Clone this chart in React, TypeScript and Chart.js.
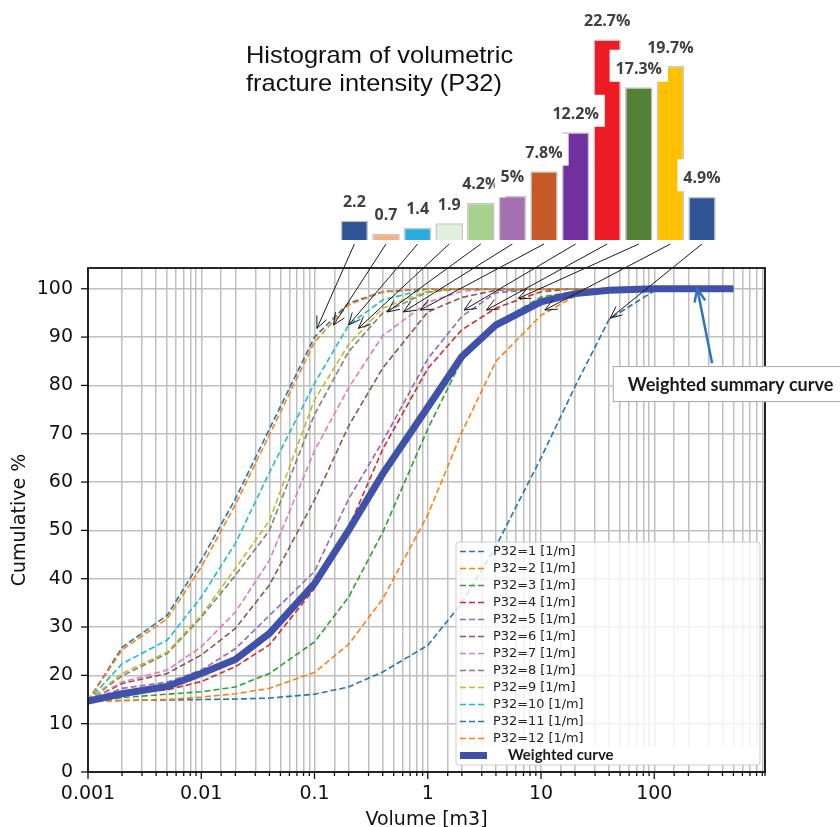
import React, { useEffect, useRef } from 'react';
import { Chart, registerables } from 'chart.js';

Chart.register(...registerables);

// Volume classes [m3] at which every cumulative curve is sampled
const volumes = [0.001, 0.002, 0.005, 0.01, 0.02, 0.04, 0.1, 0.2, 0.4, 1, 2, 4, 10, 20, 40, 100, 200, 500];

// Cumulative % of block volume, one list per fracture intensity class
const cumP32_1 = [14.7, 14.8, 14.9, 15.0, 15.1, 15.3, 16.1, 17.6, 20.7, 26.2, 35.0, 46.7, 65.0, 79.8, 93.7, 99.6, 100, 100];
const cumP32_2 = [14.7, 14.8, 15.0, 15.5, 16.2, 17.3, 20.6, 26.4, 35.8, 53.2, 70.3, 85.0, 94.5, 98.5, 99.7, 100, 100, 100];
const cumP32_3 = [14.7, 15.4, 16.1, 16.6, 17.6, 20.4, 26.9, 36.2, 49.6, 71.0, 85.3, 92.8, 98.3, 99.4, 99.8, 100, 100, 100];
const cumP32_4 = [14.7, 16.1, 17.0, 18.7, 21.8, 26.3, 38.0, 50.5, 66.8, 83.5, 91.5, 96.0, 99.4, 100, 100, 100, 100, 100];
const cumP32_5 = [14.7, 17.3, 18.6, 21.1, 25.5, 32.4, 41.5, 56.5, 68.4, 85.5, 94.3, 99.2, 100, 100, 100, 100, 100, 100];
const cumP32_6 = [14.7, 18.3, 20.4, 24.2, 29.7, 38.7, 56.3, 71.6, 83.6, 95.2, 98.2, 99.7, 100, 100, 100, 100, 100, 100];
const cumP32_7 = [14.7, 18.6, 21.1, 25.9, 33.1, 43.8, 66.5, 79.5, 90.3, 97.2, 99.5, 100, 100, 100, 100, 100, 100, 100];
const cumP32_8 = [14.7, 19.9, 24.5, 32.0, 40.7, 50.0, 74.0, 87.0, 95.0, 99.3, 100, 100, 100, 100, 100, 100, 100, 100];
const cumP32_9 = [14.7, 20.4, 24.8, 32.4, 42.1, 52.0, 77.0, 88.5, 96.0, 99.5, 100, 100, 100, 100, 100, 100, 100, 100];
const cumP32_10 = [14.7, 22.4, 27.3, 36.2, 47.3, 62.0, 80.4, 92.5, 97.7, 100, 100, 100, 100, 100, 100, 100, 100, 100];
const cumP32_11 = [14.7, 25.8, 32.4, 43.8, 56.5, 71.0, 90.0, 97.0, 99.4, 100, 100, 100, 100, 100, 100, 100, 100, 100];
const cumP32_12 = [14.7, 25.3, 31.7, 42.4, 55.3, 69.8, 89.0, 96.7, 99.3, 100, 100, 100, 100, 100, 100, 100, 100, 100];
const cumWeighted = [14.7, 16.2, 17.7, 20.4, 23.3, 28.7, 39.0, 50.0, 61.7, 75.5, 86.0, 92.5, 97.3, 99.0, 99.7, 100, 100, 100];

const curveSeries = [cumP32_1, cumP32_2, cumP32_3, cumP32_4, cumP32_5, cumP32_6, cumP32_7, cumP32_8, cumP32_9, cumP32_10, cumP32_11, cumP32_12];
const curveLabels = ['P32=1 [1/m]', 'P32=2 [1/m]', 'P32=3 [1/m]', 'P32=4 [1/m]', 'P32=5 [1/m]', 'P32=6 [1/m]', 'P32=7 [1/m]', 'P32=8 [1/m]', 'P32=9 [1/m]', 'P32=10 [1/m]', 'P32=11 [1/m]', 'P32=12 [1/m]'];
const curveColors = ['#1f77b4', '#ff7f0e', '#2ca02c', '#d62728', '#9467bd', '#8c564b', '#e377c2', '#7f7f7f', '#bcbd22', '#17becf', '#1f77b4', '#ff7f0e'];
const weightedLabel = 'Weighted curve';
const weightedColor = '#3f51a8';

// Histogram of P32 occurrence (left to right: P32 = 12 ... 1)
const histClasses = ['12', '11', '10', '9', '8', '7', '6', '5', '4', '3', '2', '1'];
const histShares = [2.2, 0.7, 1.4, 1.9, 4.2, 5, 7.8, 12.2, 22.7, 17.3, 19.7, 4.9];
const histLabels = ['2.2', '0.7', '1.4', '1.9', '4.2%', '5%', '7.8%', '12.2%', '22.7%', '17.3%', '19.7%', '4.9%'];
const histColors = ['#2f5597', '#f4b183', '#29abe2', '#e2efda', '#a9d18e', '#a470b0', '#c55a28', '#7030a0', '#ed1c24', '#548235', '#ffc000', '#2f5597'];

// Where each histogram bar points on its curve: volume [m3] and cumulative %
const arrowVolumes = [0.105, 0.147, 0.2, 0.244, 0.44, 0.61, 0.86, 2.09, 3.3, 6.3, 10.8, 40.7];
const arrowPercents = [91.8, 92.5, 92.5, 91.8, 95.2, 95.2, 95.6, 95.6, 95.6, 98.0, 95.6, 93.9];

const calloutText = 'Weighted summary curve';
const calloutFrom = { x: 324, y: 84.6 };
const calloutTo = { x: 240, y: 100 };
const calloutAnchor = { x: 43, y: 84 };

const xTitle = 'Volume [m3]';
const yTitle = 'Cumulative %';
const yTicks = [0, 10, 20, 30, 40, 50, 60, 70, 80, 90, 100];

const W = 840;
const H = 827;

const isDecade = (v: number) => Math.abs(Math.log10(v) - Math.round(Math.log10(v))) < 1e-6;

function arrowHead(ctx: CanvasRenderingContext2D, fx: number, fy: number, tx: number, ty: number, len: number, spread: number) {
  const a = Math.atan2(ty - fy, tx - fx);
  ctx.beginPath();
  ctx.moveTo(tx - len * Math.cos(a - spread), ty - len * Math.sin(a - spread));
  ctx.lineTo(tx, ty);
  ctx.lineTo(tx - len * Math.cos(a + spread), ty - len * Math.sin(a + spread));
  ctx.stroke();
}

export default function App() {
  const lineRef = useRef<HTMLCanvasElement | null>(null);
  const barRef = useRef<HTMLCanvasElement | null>(null);

  useEffect(() => {
    if (!lineRef.current || !barRef.current) return;

    const barLabelPlugin = {
      id: 'barLabels',
      afterDatasetsDraw(chart: any) {
        const ctx = chart.ctx as CanvasRenderingContext2D;
        const meta = chart.getDatasetMeta(0);
        ctx.save();
        ctx.font = 'bold 16px "Open Sans"';
        ctx.textAlign = 'center';
        ctx.textBaseline = 'alphabetic';
        meta.data.forEach((bar: any, i: number) => {
          const text = histLabels[i];
          const w = ctx.measureText(text).width;
          const by = bar.y - 13.5;
          ctx.fillStyle = '#ffffff';
          ctx.fillRect(bar.x - w / 2 - 6, by - 24, w + 12, 32);
          ctx.fillStyle = '#404040';
          ctx.fillText(text, bar.x, by);
        });
        ctx.restore();
      },
    };

    const barChart = new Chart(barRef.current, {
      type: 'bar',
      data: {
        labels: histClasses,
        datasets: [{
          data: histShares,
          backgroundColor: histColors,
          borderColor: '#c4c4c4',
          borderWidth: 1.5,
          barPercentage: 0.87,
          categoryPercentage: 1,
        }],
      },
      options: {
        animation: false,
        responsive: false,
        maintainAspectRatio: false,
        layout: { padding: { left: 338.6, right: 122.2, top: 19.25, bottom: 10 } },
        scales: {
          x: { display: false },
          y: { display: false, min: 0, max: 25 },
        },
        plugins: { legend: { display: false }, tooltip: { enabled: false } },
      },
      plugins: [barLabelPlugin],
    });

    const frameAndTicks = {
      id: 'frameAndTicks',
      afterDraw(chart: any) {
        const ctx = chart.ctx as CanvasRenderingContext2D;
        const { left, right, top, bottom } = chart.chartArea;
        const xs = chart.scales.x;
        const ys = chart.scales.y;
        ctx.save();
        ctx.strokeStyle = '#111';
        ctx.lineWidth = 1.3;
        xs.ticks.forEach((t: any) => {
          const px = xs.getPixelForValue(t.value);
          if (px < left - 0.5 || px > right + 0.5) return;
          const len = isDecade(t.value) ? 7 : 4;
          ctx.beginPath();
          ctx.moveTo(px, bottom);
          ctx.lineTo(px, bottom + len);
          ctx.stroke();
        });
        ys.ticks.forEach((t: any) => {
          const py = ys.getPixelForValue(t.value);
          ctx.beginPath();
          ctx.moveTo(left, py);
          ctx.lineTo(left - 7, py);
          ctx.stroke();
        });
        ctx.lineWidth = 1.8;
        ctx.strokeRect(left, top, right - left, bottom - top);
        ctx.restore();
      },
    };

    const legendPlugin = {
      id: 'boxLegend',
      afterDatasetsDraw(chart: any) {
        const ctx = chart.ctx as CanvasRenderingContext2D;
        const { right, bottom } = chart.chartArea;
        const bw = 304;
        const bh = 223;
        const bx = right - 5 - bw;
        const by = bottom - 7 - bh;
        const rowH = 17;
        ctx.save();
        ctx.fillStyle = 'rgba(255,255,255,0.8)';
        ctx.strokeStyle = '#cccccc';
        ctx.lineWidth = 1;
        ctx.beginPath();
        ctx.roundRect(bx, by, bw, bh, 3);
        ctx.fill();
        ctx.stroke();
        ctx.fillStyle = '#ffffff';
        ctx.fillRect(bx + 1, by + 12 * rowH + 1, bw - 2, bh - 12 * rowH - 2);
        const sets = chart.data.datasets;
        ctx.textBaseline = 'middle';
        ctx.textAlign = 'left';
        for (let i = 0; i < sets.length; i++) {
          const ds = sets[i];
          const cy = by + 9.5 + i * rowH;
          if (i < 12) {
            ctx.strokeStyle = ds.borderColor;
            ctx.lineWidth = 1.6;
            ctx.setLineDash(ds.borderDash || []);
            ctx.beginPath();
            ctx.moveTo(bx + 4, cy);
            ctx.lineTo(bx + 28, cy);
            ctx.stroke();
            ctx.setLineDash([]);
            ctx.fillStyle = '#222';
            ctx.font = '12.9px "DejaVu Sans"';
            ctx.fillText(ds.label, bx + 37, cy);
          } else {
            ctx.fillStyle = ds.borderColor;
            ctx.fillRect(bx + 4, cy - 3.5, 27, 7);
            ctx.fillStyle = '#1a1a1a';
            ctx.font = 'bold 15px Lato';
            ctx.fillText(ds.label, bx + 52, cy);
          }
        }
        ctx.restore();
      },
    };

    const annotationPlugin = {
      id: 'pointers',
      afterDraw(chart: any) {
        const ctx = chart.ctx as CanvasRenderingContext2D;
        const xs = chart.scales.x;
        const ys = chart.scales.y;
        const bars = barChart.getDatasetMeta(0).data as any[];
        ctx.save();
        // black pointers from every histogram bar to its curve
        ctx.strokeStyle = '#1a1a1a';
        ctx.lineWidth = 1;
        bars.forEach((bar, i) => {
          const fx = bar.x;
          const fy = bar.base + 4;
          const tx = xs.getPixelForValue(arrowVolumes[i]);
          const ty = ys.getPixelForValue(arrowPercents[i]);
          ctx.beginPath();
          ctx.moveTo(fx, fy);
          ctx.lineTo(tx, ty);
          ctx.stroke();
          arrowHead(ctx, fx, fy, tx, ty, 13, 0.42);
        });
        // callout for the weighted curve
        const ax = xs.getPixelForValue(calloutAnchor.x);
        const ay = ys.getPixelForValue(calloutAnchor.y);
        ctx.fillStyle = '#ffffff';
        ctx.strokeStyle = '#a6a6a6';
        ctx.lineWidth = 1;
        ctx.fillRect(ax, ay, W - ax + 20, 36);
        ctx.strokeRect(ax + 0.5, ay + 0.5, W - ax + 20, 35);
        ctx.fillStyle = '#1a1a1a';
        ctx.font = 'bold 18.1px Lato';
        ctx.textBaseline = 'middle';
        ctx.textAlign = 'left';
        ctx.fillText(calloutText, ax + 15, ay + 19);
        const fx = xs.getPixelForValue(calloutFrom.x);
        const fy = ys.getPixelForValue(calloutFrom.y);
        const tx = xs.getPixelForValue(calloutTo.x);
        const ty = ys.getPixelForValue(calloutTo.y);
        ctx.strokeStyle = '#2e75b6';
        ctx.lineWidth = 2.5;
        ctx.beginPath();
        ctx.moveTo(fx, fy);
        ctx.lineTo(tx, ty);
        ctx.stroke();
        arrowHead(ctx, fx, fy, tx, ty, 14, 0.4);
        ctx.restore();
      },
    };

    const datasets: any[] = curveSeries.map((vals, i) => ({
      label: curveLabels[i],
      data: vals.map((y, j) => ({ x: volumes[j], y })),
      borderColor: curveColors[i],
      borderWidth: 1.6,
      borderDash: [6, 3],
      pointRadius: 0,
      tension: 0,
      fill: false,
      order: 13 - i,
    }));
    datasets.push({
      label: weightedLabel,
      data: cumWeighted.map((y, j) => ({ x: volumes[j], y })),
      borderColor: weightedColor,
      borderWidth: 7,
      pointRadius: 0,
      tension: 0,
      fill: false,
      order: 0,
    });

    const tickFont = { family: 'DejaVu Sans', size: 19 };

    const lineChart = new Chart(lineRef.current, {
      type: 'line',
      data: { datasets },
      options: {
        animation: false,
        responsive: false,
        maintainAspectRatio: false,
        layout: { padding: { top: 268, right: 75, left: 0, bottom: 0 } },
        scales: {
          x: {
            type: 'logarithmic',
            min: 0.001,
            max: 950,
            ticks: {
              autoSkip: false,
              maxRotation: 0,
              minRotation: 0,
              font: tickFont,
              color: '#111',
              padding: 11,
              callback: (v: any) => (isDecade(Number(v)) ? String(Number(Number(v).toPrecision(1))) : ''),
            },
            grid: { color: '#bfbfbf', lineWidth: 1.5, drawTicks: false },
            border: { display: false },
            title: { display: true, text: xTitle, font: tickFont, color: '#111', padding: { top: 0, bottom: -4 } },
            afterFit: (s: any) => { s.height = 55; },
          },
          y: {
            type: 'linear',
            min: 0,
            max: 104.3,
            afterBuildTicks: (s: any) => { s.ticks = yTicks.map((v) => ({ value: v })); },
            ticks: { font: tickFont, color: '#111', padding: 15 },
            grid: { color: '#bfbfbf', lineWidth: 1.5, drawTicks: false },
            border: { display: false },
            title: { display: true, text: yTitle, font: tickFont, color: '#111', padding: { top: 9, bottom: 0 } },
            afterFit: (s: any) => { s.width = 88; },
          },
        },
        plugins: { legend: { display: false }, tooltip: { enabled: false } },
      },
      plugins: [legendPlugin, frameAndTicks, annotationPlugin],
    });

    return () => {
      lineChart.destroy();
      barChart.destroy();
    };
  }, []);

  return (
    <div style={{ position: 'absolute', left: 0, top: 0, width: W, height: H, background: '#fff', overflow: 'hidden' }}>
      <canvas ref={lineRef} width={W} height={H} style={{ position: 'absolute', left: 0, top: 0 }} />
      <canvas ref={barRef} width={W} height={250} style={{ position: 'absolute', left: 0, top: 0 }} />
      <div
        style={{
          position: 'absolute',
          left: 246,
          top: 40.5,
          fontFamily: '"Liberation Sans", Arial, sans-serif',
          fontSize: 24,
          lineHeight: '28px',
          color: '#111',
          whiteSpace: 'nowrap',
          transform: 'scaleX(1.06)',
          transformOrigin: 'left top',
        }}
      >
        Histogram of volumetric
        <br />
        fracture intensity (P32)
      </div>
    </div>
  );
}
